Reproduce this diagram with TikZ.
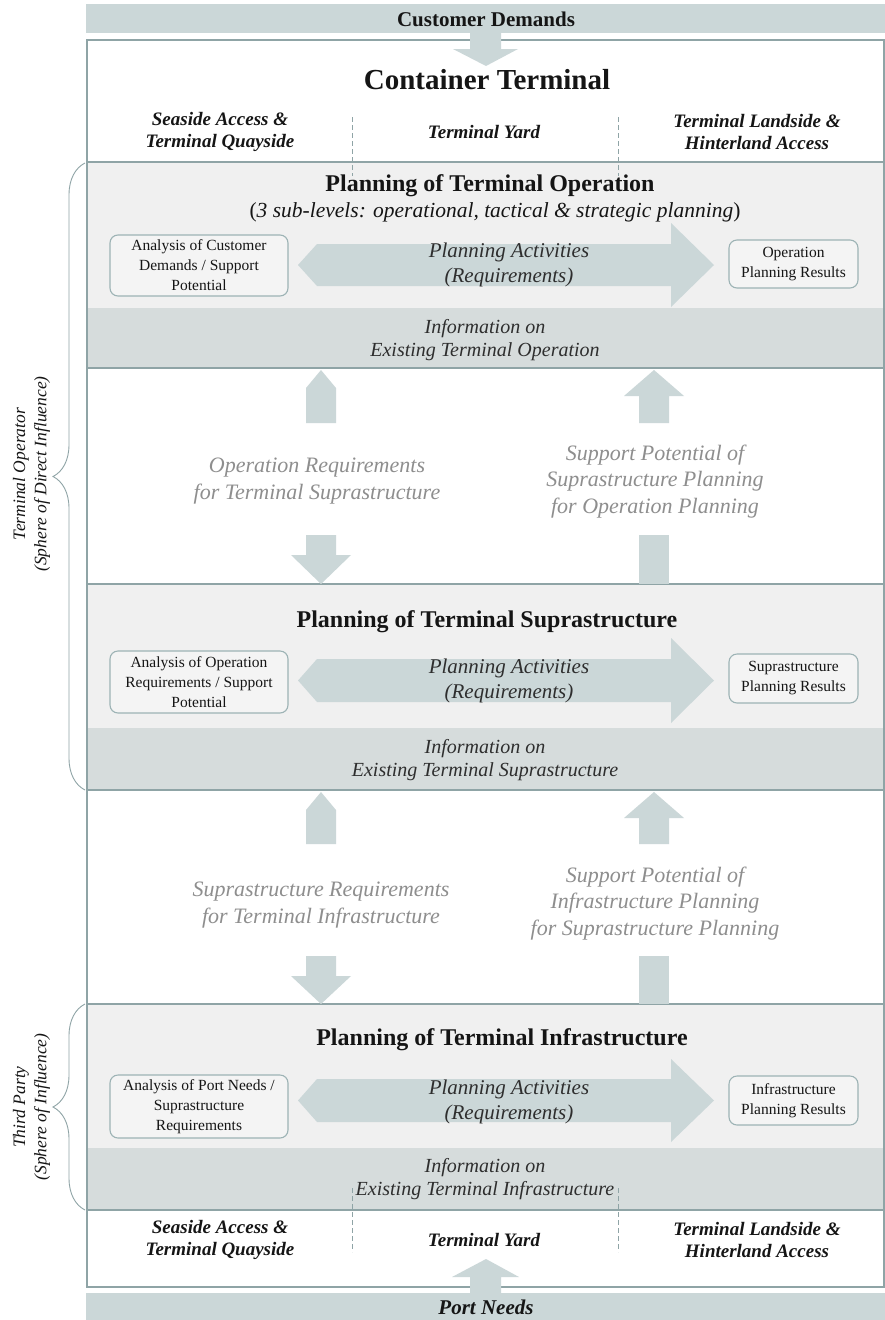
\documentclass[tikz,border=0pt]{standalone}
\usepackage{fontspec}
\setmainfont{Liberation Serif}
\usetikzlibrary{decorations.pathreplacing}
\definecolor{bandc}{HTML}{CBD7D8}
\definecolor{infoc}{HTML}{D6DCDC}
\definecolor{lightc}{HTML}{F0F0F0}
\definecolor{framec}{HTML}{8FA4A6}
\definecolor{boxline}{HTML}{9DB3B5}
\definecolor{boxfill}{HTML}{F4F4F4}
\definecolor{greyt}{HTML}{8E8E8E}
\definecolor{txt}{HTML}{151515}
\definecolor{darkt}{HTML}{2E2E2E}
\tikzset{
  lbl/.style={font=\bfseries\itshape\fontsize{19}{21.5}\selectfont, align=center, text=txt},
  ttl/.style={font=\bfseries\fontsize{24}{28}\selectfont, text=txt},
  acttxt/.style={font=\itshape\fontsize{21}{25}\selectfont, text=darkt, align=center},
  infotxt/.style={font=\itshape\fontsize{20}{22.5}\selectfont, text=darkt, align=center},
  gaptxt/.style={font=\itshape\fontsize{22}{26.5}\selectfont, text=greyt, align=center},
  rbox/.style={draw=boxline, line width=1.1pt, rounded corners=8pt, fill=boxfill,
    font=\fontsize{15.5}{20}\selectfont, align=center, inner sep=0pt, text=txt},
  lbox/.style={rbox, minimum width=178pt},
  rrbox/.style={rbox, minimum width=129pt, minimum height=48pt},
  sidelbl/.style={font=\itshape\fontsize{17.5}{21}\selectfont, text=txt, rotate=90},
  blockline/.style={draw=framec, line width=2.4pt},
  bigarrow/.style={fill=bandc},
  bracel/.style={draw=framec, line width=0.9pt, decorate,
    decoration={brace, amplitude=32pt}},
  dashl/.style={draw=framec, line width=0.7pt, dash pattern=on 5pt off 3pt},
}
\begin{document}
\begin{tikzpicture}[x=1pt,y=-1pt]
\useasboundingbox (0,0) rectangle (885,1320);
\fill[white] (0,0) rectangle (885,1320);

% top band
\fill[bandc] (86,4) rectangle (885,33);
\node[font=\bfseries\fontsize{21}{24}\selectfont, text=txt] (cust) at (486,19) {Customer Demands};

% outer frame
\draw[draw=framec, line width=2pt] (87,40) rectangle (884,1287);

% blocks
\foreach \t/\m/\b in {162/308/368, 584/728/790, 1004/1148/1210}{
  \fill[lightc] (87,\t) rectangle (884,\m);
  \fill[infoc] (87,\m) rectangle (884,\b);
  \draw[blockline] (87,\t) rectangle (884,\b);
}

% top arrow
\fill[bandc] (470,33) -- (501,33) -- (501,49) -- (518,49) -- (486,66) -- (453,49) -- (470,49) -- cycle;
\node[font=\bfseries\fontsize{29}{32}\selectfont, text=txt] (ct) at (487,80) {Container Terminal};

% column labels top
\node[lbl] (seaT) at (220,132) {Seaside Access \&\\Terminal Quayside};
\node[lbl] (yardT) at (484,132) {Terminal Yard};
\node[lbl] (landT) at (757,132) {Terminal Landside \&\\Hinterland Access};
\draw[dashl] (352,117) -- (352,176);
\draw[dashl] (618,117) -- (618,176);

% Operation block
\node[ttl] (opT) at (490,186) {Planning of Terminal Operation};
\node[font=\fontsize{21.5}{25}\selectfont, text=txt] (opS) at (495,212) {(\textit{3 sub-levels: operational, tactical \& strategic planning})};
\fill[bigarrow] (298,265) -- (317,244) -- (671,244) -- (671,223) -- (714,265) -- (671,307) -- (671,286) -- (317,286) -- cycle;
\node[lbox, minimum height=61pt] (opA) at (199,265.5) {Analysis of Customer\\Demands / Support\\Potential};
\node[acttxt] (opP) at (509,264.5) {Planning Activities\\(Requirements)};
\node[rrbox] (opR) at (793.5,264) {Operation\\Planning Results};
\node[infotxt] (opI) at (485,340) {Information on\\Existing Terminal Operation};

% gap 1
\fill[bigarrow] (321,370) -- (336,388) -- (336,423) -- (306,423) -- (306,388) -- cycle;
\fill[bigarrow] (654,370) -- (684,396) -- (669,396) -- (669,423) -- (639,423) -- (639,396) -- (624,396) -- cycle;
\node[gaptxt] (g1L) at (317,481) {Operation Requirements\\for Terminal Suprastructure};
\node[gaptxt] (g1R) at (655,481.5) {Support Potential of\\Suprastructure Planning\\for Operation Planning};
\fill[bigarrow] (306,535) -- (336,535) -- (336,555) -- (351,555) -- (321,584) -- (291,555) -- (306,555) -- cycle;
\fill[bigarrow] (639,535) rectangle (669,584);

% Suprastructure block
\node[ttl] (suT) at (487,622) {Planning of Terminal Suprastructure};
\fill[bigarrow] (298,680.5) -- (317,659) -- (671,659) -- (671,638) -- (714,680.5) -- (671,723) -- (671,702) -- (317,702) -- cycle;
\node[lbox, minimum height=62pt] (suA) at (199,682) {Analysis of Operation\\Requirements / Support\\Potential};
\node[acttxt] (suP) at (509,681) {Planning Activities\\(Requirements)};
\node[rrbox, minimum height=49pt] (suR) at (793.5,678.5) {Suprastructure\\Planning Results};
\node[infotxt] (suI) at (485,760) {Information on\\Existing Terminal Suprastructure};

% gap 2
\fill[bigarrow] (321,792) -- (336,810) -- (336,844) -- (306,844) -- (306,810) -- cycle;
\fill[bigarrow] (654,792) -- (684,818) -- (669,818) -- (669,844) -- (639,844) -- (639,818) -- (624,818) -- cycle;
\node[gaptxt] (g2L) at (321,905) {Suprastructure Requirements\\for Terminal Infrastructure};
\node[gaptxt] (g2R) at (655,903.5) {Support Potential of\\Infrastructure Planning\\for Suprastructure Planning};
\fill[bigarrow] (306,956) -- (336,956) -- (336,976) -- (351,976) -- (321,1004) -- (291,976) -- (306,976) -- cycle;
\fill[bigarrow] (639,956) rectangle (669,1004);

% Infrastructure block
\node[ttl] (inT) at (502,1040) {Planning of Terminal Infrastructure};
\fill[bigarrow] (298,1100.5) -- (317,1079) -- (671,1079) -- (671,1059) -- (714,1100.5) -- (671,1142) -- (671,1122) -- (317,1122) -- cycle;
\node[lbox, minimum height=63pt] (inA) at (199,1106.5) {Analysis of Port Needs /\\Suprastructure\\Requirements};
\node[acttxt] (inP) at (509,1101.5) {Planning Activities\\(Requirements)};
\node[rrbox, minimum height=49pt] (inR) at (793.5,1100.5) {Infrastructure\\Planning Results};
\node[infotxt] (inI) at (485,1179) {Information on\\Existing Terminal Infrastructure};

% bottom labels
\draw[dashl] (352,1188) -- (352,1252);
\draw[dashl] (618,1188) -- (618,1252);
\node[lbl] (seaB) at (220,1240) {Seaside Access \&\\Terminal Quayside};
\node[lbl] (yardB) at (484,1240) {Terminal Yard};
\node[lbl] (landB) at (757,1240) {Terminal Landside \&\\Hinterland Access};

% bottom arrow and band
\fill[bandc] (86,1293) rectangle (885,1320);
\fill[bandc] (470,1294) -- (470,1277) -- (452,1277) -- (486,1259) -- (519,1277) -- (501,1277) -- (501,1294) -- cycle;
\node[font=\bfseries\itshape\fontsize{21}{24}\selectfont, text=txt] (port) at (486,1307) {Port Needs};

% braces and side labels
\draw[bracel] (85,790) -- (85,163);
\draw[bracel] (85,1210) -- (85,1004);
\node[sidelbl] (op1) at (21,474) {Terminal Operator};
\node[sidelbl] (op2) at (42,474) {(Sphere of Direct Influence)};
\node[sidelbl] (tp1) at (21,1107) {Third Party};
\node[sidelbl] (tp2) at (42,1107) {(Sphere of Influence)};
\end{tikzpicture}
\end{document}
